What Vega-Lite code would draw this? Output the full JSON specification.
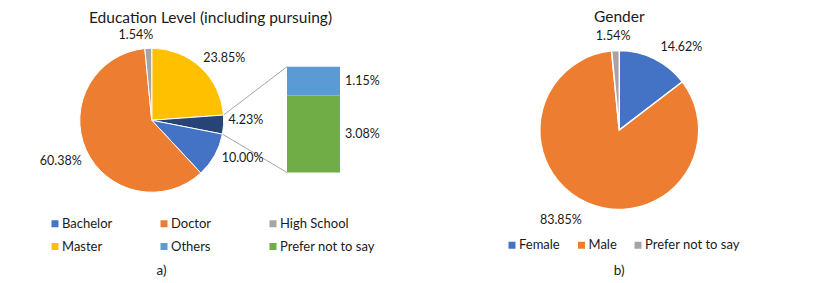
{
  "$schema": "https://vega.github.io/schema/vega-lite/v6.json",
  "width": 831,
  "height": 283,
  "autosize": {"type": "fit", "contains": "padding"},
  "padding": 0,
  "background": "white",
  "config": {
    "view": {"stroke": null},
    "axis": {"disable": true},
    "font": "Lato",
    "text": {"font": "Lato", "color": "#1a1a1a"}
  },
  "datasets": {
    "education_pie": [
      {"cat": "Master", "pct": 0.2385, "ord": 1},
      {"cat": "Other (combined)", "pct": 0.0423, "ord": 2},
      {"cat": "Bachelor", "pct": 0.1, "ord": 3},
      {"cat": "Doctor", "pct": 0.6038, "ord": 4},
      {"cat": "High School", "pct": 0.0154, "ord": 5}
    ],
    "education_other": [
      {"cat": "Prefer not to say", "pct": 0.0308, "ord": 1},
      {"cat": "Others", "pct": 0.0115, "ord": 2}
    ],
    "gender": [
      {"cat": "Female", "pct": 0.1462, "ord": 1},
      {"cat": "Male", "pct": 0.8385, "ord": 2},
      {"cat": "Prefer not to say", "pct": 0.0154, "ord": 3}
    ]
  },
  "layer": [
    {
      "data": {"values": [{"connector": "upper"}]},
      "mark": {"type": "rule", "color": "#A6A6A6", "strokeWidth": 1},
      "encoding": {
        "x": {"datum": 0.0894, "type": "quantitative", "scale": {"domain": [0, 0.3324], "nice": false, "zero": false}},
        "y": {"datum": 0.023, "type": "quantitative", "scale": {"domain": [-0.0442, 0.069], "nice": false, "zero": false}},
        "x2": {"datum": 0.1148},
        "y2": {"datum": 0.0423}
      }
    },
    {
      "data": {"values": [{"connector": "lower"}]},
      "mark": {"type": "rule", "color": "#A6A6A6", "strokeWidth": 1},
      "encoding": {
        "x": {"datum": 0.08896, "type": "quantitative"},
        "y": {"datum": 0.01536, "type": "quantitative"},
        "x2": {"datum": 0.1148},
        "y2": {"datum": 0}
      }
    },
    {
      "data": {"name": "education_pie"},
      "mark": {
        "type": "arc",
        "outerRadius": 72,
        "stroke": "white",
        "strokeWidth": 1,
        "x": {"expr": "scale('x', 0.0607)"},
        "y": {"expr": "scale('y', 0.0209)"}
      },
      "encoding": {
        "theta": {"field": "pct", "type": "quantitative", "stack": true, "scale": {"domain": [0, 1]}},
        "order": {"field": "ord", "type": "quantitative"},
        "color": {
          "field": "cat",
          "type": "nominal",
          "scale": {
            "domain": ["Bachelor", "Doctor", "High School", "Master", "Others", "Prefer not to say", "Other (combined)"],
            "range": ["#4472C4", "#ED7D31", "#A5A5A5", "#FFC000", "#5B9BD5", "#70AD47", "#264478"]
          },
          "legend": {
            "orient": "none",
            "legendX": 48.5,
            "legendY": 217,
            "direction": "horizontal",
            "columns": 3,
            "gridAlign": "all",
            "title": null,
            "values": ["Bachelor", "Doctor", "High School", "Master", "Others", "Prefer not to say"],
            "symbolType": "square",
            "symbolSize": 49,
            "symbolStrokeWidth": 0,
            "symbolOpacity": 1,
            "labelFont": "Lato",
            "labelFontSize": 13,
            "labelColor": "#1a1a1a",
            "labelOffset": 0.5,
            "columnPadding": -4,
            "rowPadding": 9
          }
        }
      }
    },
    {
      "data": {"name": "education_pie"},
      "mark": {
        "type": "text",
        "radius": 80,
        "fontSize": 12.5,
        "x": {"expr": "scale('x', 0.0607)"},
        "y": {"expr": "scale('y', 0.0209)"},
        "align": {"expr": "sin(PI*(datum.pct_start+datum.pct_end)) > 0.3 ? 'left' : sin(PI*(datum.pct_start+datum.pct_end)) < -0.3 ? 'right' : 'center'"},
        "baseline": {"expr": "cos(PI*(datum.pct_start+datum.pct_end)) > 0.5 ? 'bottom' : cos(PI*(datum.pct_start+datum.pct_end)) < -0.5 ? 'top' : 'middle'"},
        "dx": {"expr": "datum.cat === 'High School' ? -12 : datum.cat === 'Master' ? -3 : datum.cat === 'Other (combined)' ? -3 : datum.cat === 'Doctor' ? 3 : 0"},
        "dy": {"expr": "datum.cat === 'High School' ? 2 : datum.cat === 'Master' ? 3 : datum.cat === 'Other (combined)' ? -5 : datum.cat === 'Doctor' ? 8 : -1"}
      },
      "encoding": {
        "theta": {"field": "pct", "type": "quantitative", "stack": true},
        "order": {"field": "ord", "type": "quantitative"},
        "detail": {"field": "cat", "type": "nominal"},
        "text": {"field": "pct", "type": "quantitative", "format": ".2%"}
      }
    },
    {
      "data": {"name": "education_other"},
      "transform": [
        {"stack": "pct", "groupby": [], "sort": [{"field": "ord", "order": "ascending"}], "as": ["y0", "y1"]}
      ],
      "mark": {
        "type": "rect",
        "x": {"expr": "scale('x', 0.1148)"},
        "x2": {"expr": "scale('x', 0.136)"}
      },
      "encoding": {
        "y": {"field": "y0", "type": "quantitative"},
        "y2": {"field": "y1"},
        "color": {
          "field": "cat",
          "type": "nominal",
          "scale": {
            "domain": ["Bachelor", "Doctor", "High School", "Master", "Others", "Prefer not to say", "Other (combined)"],
            "range": ["#4472C4", "#ED7D31", "#A5A5A5", "#FFC000", "#5B9BD5", "#70AD47", "#264478"]
          },
          "legend": null
        }
      }
    },
    {
      "data": {"name": "education_other"},
      "mark": {
        "type": "text",
        "fontSize": 12.5,
        "align": "left",
        "baseline": "middle",
        "x": {"expr": "scale('x', 0.138)"}
      },
      "encoding": {
        "y": {"field": "pct", "type": "quantitative", "stack": "zero", "bandPosition": 0.5},
        "order": {"field": "ord", "type": "quantitative"},
        "detail": {"field": "cat", "type": "nominal"},
        "text": {"field": "pct", "type": "quantitative", "format": ".2%"}
      }
    },
    {
      "data": {"name": "gender"},
      "mark": {
        "type": "arc",
        "outerRadius": 79.5,
        "stroke": "white",
        "strokeWidth": 1.5,
        "x": {"expr": "scale('x', 0.2477)"},
        "y": {"expr": "scale('y', 0.017)"}
      },
      "encoding": {
        "theta": {"field": "pct", "type": "quantitative", "stack": true},
        "order": {"field": "ord", "type": "quantitative"},
        "color": {
          "field": "cat",
          "type": "nominal",
          "scale": {
            "domain": ["Female", "Male", "Prefer not to say"],
            "range": ["#4472C4", "#ED7D31", "#A5A5A5"]
          },
          "legend": {
            "orient": "none",
            "legendX": 505.5,
            "legendY": 238.5,
            "direction": "horizontal",
            "columns": 3,
            "title": null,
            "symbolType": "square",
            "symbolSize": 49,
            "symbolStrokeWidth": 0,
            "symbolOpacity": 1,
            "labelFont": "Lato",
            "labelFontSize": 13,
            "labelColor": "#1a1a1a",
            "labelOffset": 0.5,
            "columnPadding": 14.5
          }
        }
      }
    },
    {
      "data": {"name": "gender"},
      "mark": {
        "type": "text",
        "radius": 86,
        "fontSize": 12.5,
        "x": {"expr": "scale('x', 0.2477)"},
        "y": {"expr": "scale('y', 0.017)"},
        "align": {"expr": "sin(PI*(datum.pct_start+datum.pct_end)) > 0.3 ? 'left' : sin(PI*(datum.pct_start+datum.pct_end)) < -0.3 ? 'right' : 'center'"},
        "baseline": {"expr": "cos(PI*(datum.pct_start+datum.pct_end)) > 0.5 ? 'bottom' : cos(PI*(datum.pct_start+datum.pct_end)) < -0.5 ? 'top' : 'middle'"},
        "dx": {"expr": "datum.cat === 'Female' ? 3 : datum.cat === 'Male' ? -3 : -2"},
        "dy": {"expr": "datum.cat === 'Female' ? 1 : datum.cat === 'Male' ? 5 : -1"}
      },
      "encoding": {
        "theta": {"field": "pct", "type": "quantitative", "stack": true},
        "order": {"field": "ord", "type": "quantitative"},
        "detail": {"field": "cat", "type": "nominal"},
        "text": {"field": "pct", "type": "quantitative", "format": ".2%"}
      }
    },
    {
      "data": {"values": [{"title": "Education Level (including pursuing)"}]},
      "mark": {"type": "text", "fontSize": 15.5, "baseline": "middle", "align": "center"},
      "encoding": {
        "x": {"datum": 0.0842, "type": "quantitative"},
        "y": {"datum": 0.0618, "type": "quantitative"},
        "text": {"field": "title"}
      }
    },
    {
      "data": {"values": [{"title": "Gender"}]},
      "mark": {"type": "text", "fontSize": 15.5, "baseline": "middle", "align": "center"},
      "encoding": {
        "x": {"datum": 0.2477, "type": "quantitative"},
        "y": {"datum": 0.0622, "type": "quantitative"},
        "text": {"field": "title"}
      }
    },
    {
      "data": {"values": [{"title": "a)"}]},
      "mark": {"type": "text", "fontSize": 13.5, "baseline": "middle", "align": "center"},
      "encoding": {
        "x": {"datum": 0.0646, "type": "quantitative"},
        "y": {"datum": -0.0392, "type": "quantitative"},
        "text": {"field": "title"}
      }
    },
    {
      "data": {"values": [{"title": "b)"}]},
      "mark": {"type": "text", "fontSize": 13.5, "baseline": "middle", "align": "center"},
      "encoding": {
        "x": {"datum": 0.2477, "type": "quantitative"},
        "y": {"datum": -0.0392, "type": "quantitative"},
        "text": {"field": "title"}
      }
    }
  ],
  "resolve": {"scale": {"color": "independent"}}
}
